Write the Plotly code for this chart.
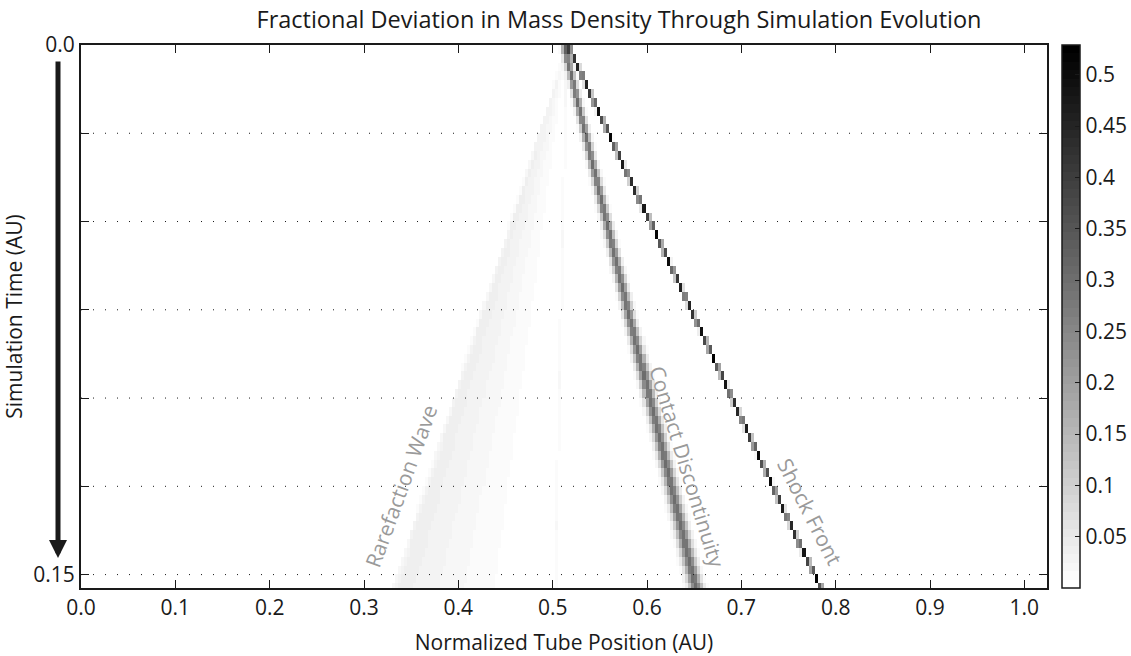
import numpy as np
import plotly.graph_objects as go

# ---- sampling of the stored field -------------------------------------
row_dt = 0.0025          # time between stored snapshots
n_rows = 62
cell_dx = 0.0032         # tube cell width
n_cells = 320

# ---- wave tracks: position at t = 0 and at t = 0.15 ---------------------
wave_names = ["rarefaction head", "rarefaction tail", "contact", "shock"]
x_start = [0.515, 0.515, 0.512, 0.516]
x_end = [0.335, 0.503, 0.648, 0.777]
track_time = 0.15

# ---- peak deviations ----------------------------------------------------
shock_peak = 0.529
contact_peak = 0.30
contact_width_start = 0.0024
contact_width_end = 0.0048
tail_peak = 0.016

# deviation across the rarefaction fan, head (0) -> tail (1)
fan_s = [0.0, 0.05, 0.15, 0.30, 0.45, 0.60, 0.75, 0.90, 1.0]
fan_dev = [0.026, 0.038, 0.032, 0.024, 0.016, 0.009, 0.004, 0.002, 0.001]

# ---- axes ---------------------------------------------------------------
x_ticks = [0.0, 0.1, 0.2, 0.3, 0.4, 0.5, 0.6, 0.7, 0.8, 0.9, 1.0]
x_tick_text = ["0.0", "0.1", "0.2", "0.3", "0.4", "0.5", "0.6", "0.7", "0.8", "0.9", "1.0"]
t_ticks = [0.0, 0.025, 0.05, 0.075, 0.1, 0.125, 0.15]
t_tick_text = ["0.0", "", "", "", "", "", "0.15"]
cbar_ticks = [0.05, 0.1, 0.15, 0.2, 0.25, 0.3, 0.35, 0.4, 0.45, 0.5]
cbar_text = ["0.05", "0.1", "0.15", "0.2", "0.25", "0.3", "0.35", "0.4", "0.45", "0.5"]

# ---- build the deviation field -------------------------------------------
t_mid = (np.arange(n_rows) + 0.5) * row_dt
x_mid = (np.arange(n_cells) + 0.5) * cell_dx
x_left = x_mid - cell_dx / 2

z = np.zeros((n_rows, n_cells))
for i, t in enumerate(t_mid):
    f = t / track_time
    head, tail, contact, shock = [a + (b - a) * f for a, b in zip(x_start, x_end)]

    # shock: a one-cell jump shared by the cells it overlaps
    overlap = np.clip(np.minimum(x_left + cell_dx, shock + cell_dx / 2)
                      - np.maximum(x_left, shock - cell_dx / 2), 0, None) / cell_dx
    row = shock_peak * overlap

    # contact discontinuity: diffused band
    sigma = contact_width_start + (contact_width_end - contact_width_start) * f
    row = row + contact_peak * np.exp(-0.5 * ((x_mid - contact) / sigma) ** 2)

    # rarefaction fan
    s = (x_mid - head) / max(tail - head, 1e-6)
    edge = 0.5 * (1 + np.tanh((x_mid - head) / 0.002))
    row = row + np.where(s <= 1, np.interp(s, fan_s, fan_dev), 0.0) * edge
    row = row + tail_peak * np.exp(-0.5 * ((x_mid - tail) / 0.0012) ** 2)

    z[i] = np.minimum(row, shock_peak)

# 64-level inverted grey map
n_levels = 64
grey_scale = []
for k in range(n_levels):
    g = round(255 * (1 - k / (n_levels - 1)))
    c = f"rgb({g},{g},{g})"
    grey_scale.append([k / n_levels, c])
    grey_scale.append([(k + 1) / n_levels, c])

W, H = 1131, 656
ink = "#1a1a1a"
font_family = "Open Sans"
tick_font = dict(size=21, color=ink, family=font_family)

fig = go.Figure()
fig.add_trace(go.Heatmap(
    x=x_mid, y=t_mid, z=z,
    zmin=0, zmax=0.529,
    colorscale=grey_scale,
    zsmooth=False,
    colorbar=dict(
        thickness=18, thicknessmode="pixels",
        len=1, lenmode="fraction", y=0.5, yanchor="middle",
        x=1062 / W, xref="container", xanchor="left", xpad=0, ypad=0,
        outlinecolor=ink, outlinewidth=1.5,
        ticks="inside", ticklen=5, tickcolor=ink, tickwidth=1,
        tickvals=cbar_ticks, ticktext=cbar_text,
        tickfont=tick_font,
    ),
    hoverinfo="skip",
))

# dotted guides at each time tick
for tv in t_ticks[1:]:
    fig.add_shape(type="line", xref="x", yref="y", x0=0, x1=1.024, y0=tv, y1=tv,
                  line=dict(color=ink, width=1, dash="1px,11px"), layer="above")

# wave labels
label_font = dict(size=21, color="#9a9a9a", family=font_family)
for text, xv, tv, ang in [("Rarefaction Wave", 0.339, 0.1248, -70),
                          ("Contact Discontinuity", 0.643, 0.1194, 73),
                          ("Shock Front", 0.773, 0.1322, 63)]:
    fig.add_annotation(x=xv, y=tv, xref="x", yref="y", text=text, textangle=ang,
                       showarrow=False, font=label_font)

# time direction arrow
fig.add_annotation(x=(58 - 81) / 966, y=(588 - 558) / 543, xref="paper", yref="paper",
                   ax=0, ay=-498, text="", showarrow=True, arrowhead=2,
                   arrowsize=0.72, arrowwidth=5, arrowcolor=ink, standoff=0)

axis_common = dict(
    ticks="inside", ticklen=8, tickwidth=1, tickcolor=ink,
    showline=True, linewidth=2, linecolor=ink, mirror="allticks",
    showgrid=False, zeroline=False, automargin=False,
    tickfont=tick_font,
)

fig.update_layout(
    width=W, height=H,
    margin=dict(l=81, r=84, t=45, b=68, autoexpand=False),
    paper_bgcolor="white", plot_bgcolor="white",
    font=dict(family=font_family, color=ink, size=21),
    title=dict(text="Fractional Deviation in Mass Density Through Simulation Evolution",
               x=619 / W, xref="container", xanchor="center",
               y=1 - 20 / H, yref="container", yanchor="middle",
               font=dict(size=23.5, color=ink, family=font_family)),
    xaxis=dict(range=[0, 1.024], tickvals=x_ticks, ticktext=x_tick_text,
               title=dict(text="Normalized Tube Position (AU)", standoff=22,
                          font=dict(size=21, color=ink, family=font_family)),
               **axis_common),
    yaxis=dict(range=[0.1538, 0], tickvals=t_ticks, ticktext=t_tick_text,
               title=dict(text="Simulation Time (AU)", standoff=10,
                          font=dict(size=21, color=ink, family=font_family)),
               **axis_common),
    showlegend=False,
)

fig.write_html("out.html")
